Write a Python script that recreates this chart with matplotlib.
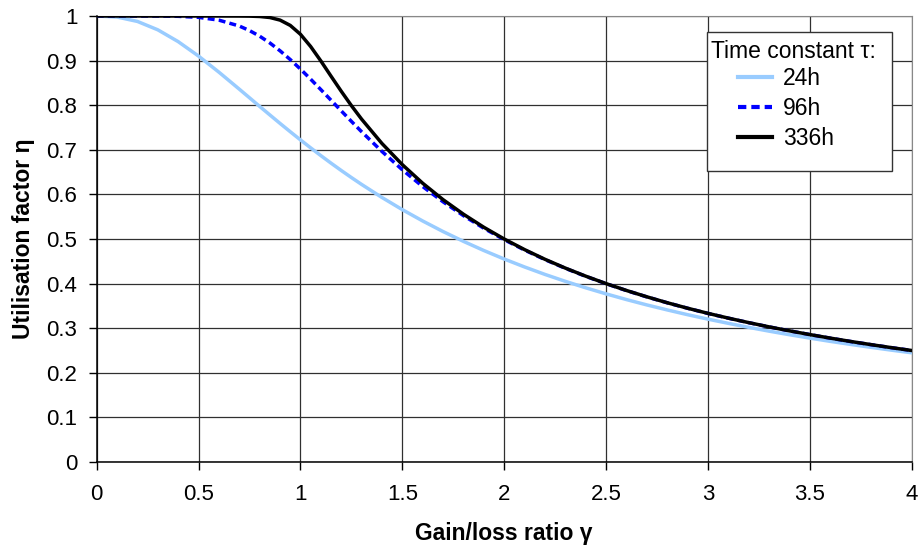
import numpy as np
import matplotlib.pyplot as plt
from matplotlib.patches import Rectangle

plt.rcParams['font.family'] = ['Liberation Sans', 'DejaVu Sans']

# gain/loss ratio
gamma = [0.0, 0.1, 0.2, 0.3, 0.4, 0.5, 0.6, 0.7, 0.75, 0.8, 0.85, 0.9, 0.95,
         1.0, 1.05, 1.1, 1.15, 1.2, 1.25, 1.3, 1.4, 1.5, 1.6, 1.7, 1.8, 1.9,
         2.0, 2.1, 2.2, 2.3, 2.4, 2.5, 2.6, 2.7, 2.8, 2.9, 3.0, 3.1, 3.2, 3.3,
         3.4, 3.5, 3.6, 3.7, 3.8, 3.9, 4.0]

eta_24h = [1.0, 0.9977, 0.9878, 0.9690, 0.9425, 0.9101, 0.8740, 0.8359, 0.8166,
           0.7972, 0.7781, 0.7591, 0.7405, 0.7222, 0.7044, 0.6870, 0.6701,
           0.6537, 0.6378, 0.6224, 0.5931, 0.5658, 0.5404, 0.5167, 0.4947,
           0.4742, 0.4551, 0.4373, 0.4206, 0.4051, 0.3906, 0.3770, 0.3642,
           0.3522, 0.3410, 0.3303, 0.3203, 0.3109, 0.3019, 0.2934, 0.2854,
           0.2778, 0.2705, 0.2637, 0.2571, 0.2508, 0.2449]

eta_96h = [1.0, 1.0, 1.0, 0.9999, 0.9993, 0.9970, 0.9907, 0.9775, 0.9673,
           0.9547, 0.9395, 0.9219, 0.9023, 0.8810, 0.8584, 0.8350, 0.8112,
           0.7874, 0.7638, 0.7406, 0.6963, 0.6552, 0.6176, 0.5834, 0.5524,
           0.5241, 0.4985, 0.4752, 0.4538, 0.4343, 0.4163, 0.3998, 0.3844,
           0.3702, 0.3570, 0.3447, 0.3331, 0.3225, 0.3124, 0.3029, 0.2940,
           0.2857, 0.2777, 0.2702, 0.2631, 0.2564, 0.2500]

eta_336h = [1.0, 1.0, 1.0, 1.0, 1.0, 1.0, 1.0, 0.9999, 0.9997, 0.9989, 0.9966,
            0.9908, 0.9789, 0.9590, 0.9316, 0.8993, 0.8651, 0.8314, 0.7991,
            0.7688, 0.7142, 0.6667, 0.6250, 0.5882, 0.5556, 0.5263, 0.5000,
            0.4762, 0.4545, 0.4348, 0.4167, 0.4000, 0.3846, 0.3704, 0.3571,
            0.3448, 0.3333, 0.3226, 0.3125, 0.3030, 0.2941, 0.2857, 0.2778,
            0.2703, 0.2632, 0.2564, 0.2500]

x_ticks = [0, 0.5, 1, 1.5, 2, 2.5, 3, 3.5, 4]
y_ticks = [0, 0.1, 0.2, 0.3, 0.4, 0.5, 0.6, 0.7, 0.8, 0.9, 1]

W, H = 919, 550
fig = plt.figure(figsize=(9.19, 5.5), dpi=100)
ax = fig.add_axes([96.7 / W, 1 - 462 / H, (911.7 - 96.7) / W, (462 - 16) / H])

ax.plot(gamma, eta_24h, color='#99CCFF', lw=2.5, label='24h', zorder=3)
ax.plot(gamma, eta_96h, color='#0000FF', lw=2.5, ls=(0, (2.0, 1.2)), label='96h', zorder=4)
ax.plot(gamma, eta_336h, color='black', lw=2.5, label='336h', zorder=5)

ax.set_xlim(0, 4)
ax.set_ylim(0, 1)
ax.set_xticks(x_ticks)
ax.set_yticks(y_ticks)
ax.set_xticklabels([f'{t:g}' for t in x_ticks])
ax.set_yticklabels([f'{t:g}' for t in y_ticks])
ax.grid(True, color='#303030', lw=0.9)
ax.set_axisbelow(True)
ax.tick_params(direction='out', length=6, width=1, labelsize=16, color='black')
ax.tick_params(axis='x', pad=10)
ax.tick_params(axis='y', pad=8)
for s in ['top', 'right']:
    ax.spines[s].set_color('#888888')
for s in ['left', 'bottom']:
    ax.spines[s].set_color('black')
    ax.spines[s].set_linewidth(1.1)

ax.set_xlabel('Gain/loss ratio γ', fontsize=16.5, fontweight='bold', labelpad=12)
ax.set_ylabel('Utilisation factor η', fontsize=16.5, fontweight='bold', labelpad=8)

# legend box like the original (extra room at bottom)
box = Rectangle((706.7 / W, 1 - 171 / H), (892 - 706.7) / W, (171 - 32) / H,
                transform=fig.transFigure, facecolor='white', edgecolor='#333333',
                lw=1, zorder=10, clip_on=False)
ax.add_patch(box)
t = fig.text(711 / W, 1 - 58 / H, 'Time constant τ:', fontsize=16.5, va='baseline', ha='left')
t.set_zorder(12)
leg = ax.legend(loc='upper left',
                bbox_to_anchor=(738 / W, 1 - 67 / H), bbox_transform=fig.transFigure,
                frameon=False, fontsize=16.5, borderaxespad=0, borderpad=0,
                handlelength=1.5, handletextpad=0.45, labelspacing=0.3)
leg.set_zorder(11)
for h in leg.legend_handles:
    h.set_linewidth(3)

fig.savefig('out.png', dpi=100)
